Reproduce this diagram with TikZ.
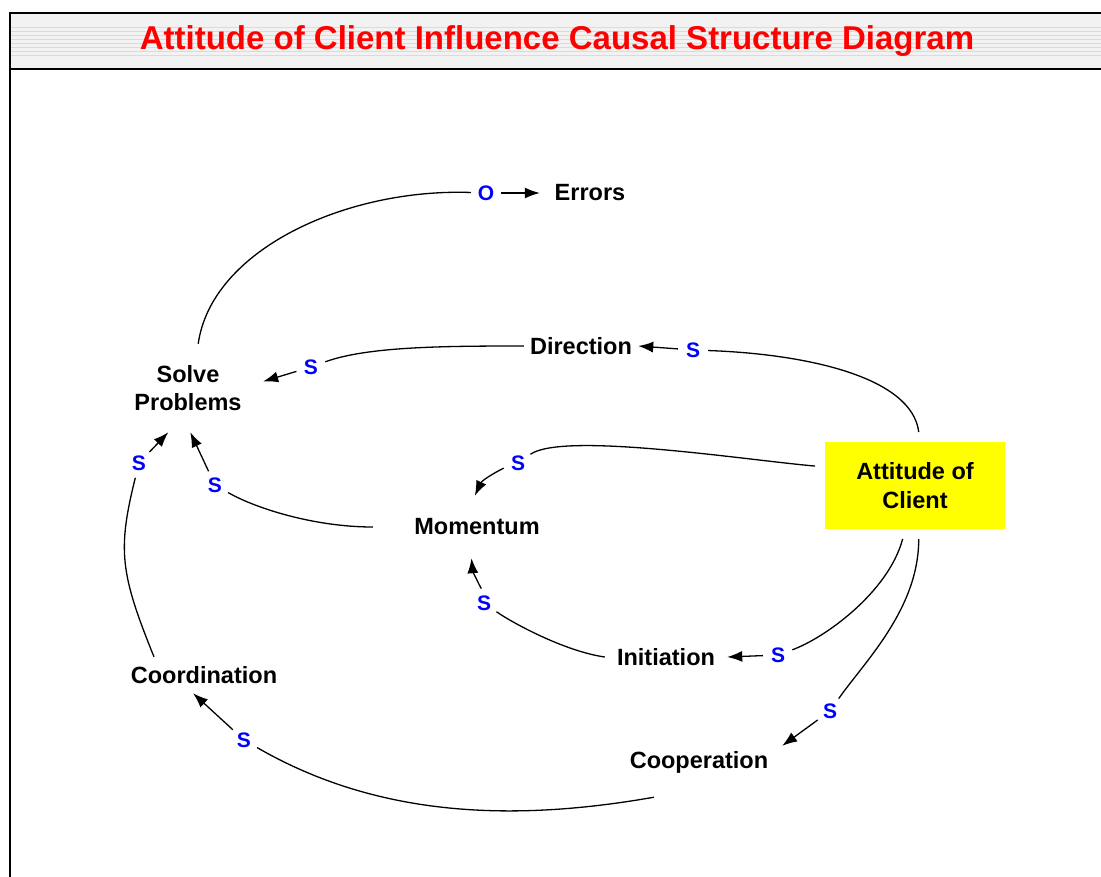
\documentclass[tikz,border=0pt]{standalone}
\usepackage{fontspec}
\setmainfont{Liberation Sans}
\usetikzlibrary{arrows.meta}
\definecolor{polblue}{RGB}{0,0,255}
\definecolor{titlered}{RGB}{255,0,0}
\definecolor{boxyellow}{RGB}{255,255,0}

\begin{document}
\begin{tikzpicture}[x=1pt,y=1pt,
  var/.style={font=\fontsize{23.5}{28.5}\selectfont\bfseries,align=center,inner sep=0pt},
  pol/.style={circle,font=\fontsize{21}{24}\selectfont\bfseries,text=polblue,inner sep=0pt,minimum size=30pt},
  link/.style={line width=1.3pt},
  arr/.style={link,-{Latex[length=15pt,width=11pt]}}]
  \useasboundingbox (0,0) rectangle (1101,-876);
  \clip (0,0) rectangle (1101,-876);
  % Title bar with stripes
  \fill[gray!10] (10,-13) rectangle (1110,-69);
  \foreach \y in {27,31,...,55}
    \draw[gray!28,line width=1pt] (10,-\y) -- (1110,-\y);
  \draw[line width=1.5pt] (1110,-13) -- (10,-13) -- (10,-890);
  \draw[line width=1.5pt] (10,-69) -- (1110,-69);
  \node[font=\fontsize{33}{38}\selectfont\bfseries,text=titlered] (title) at (557,-41)
    {Attitude of Client Influence Causal Structure Diagram};

  % Variables
  \node[var,fill=boxyellow,minimum width=180pt,minimum height=87pt,outer sep=10pt]
    (attitude) at (915,-485.5) {Attitude of\\Client};
  \node[var,minimum width=150pt,minimum height=88pt] (solve) at (188,-388) {Solve\\Problems};
  \node[var,minimum width=100pt,minimum height=30pt] (errors) at (590,-193) {Errors};
  \node[var,minimum width=114pt,minimum height=30pt] (direction) at (581,-346) {Direction};
  \node[var,minimum width=208pt,minimum height=62pt] (momentum) at (477,-527) {Momentum};
  \node[var,minimum width=122pt,minimum height=30pt] (initiation) at (666,-657) {Initiation};
  \node[var,minimum width=180pt,minimum height=36pt] (coordination) at (204,-675) {Coordination};
  \node[var,minimum width=166pt,minimum height=70pt] (cooperation) at (699,-762) {Cooperation};

  % Polarities
  \node[pol] (pErr) at (486,-193) {O};
  \node[pol] (pDir) at (693,-350) {S};
  \node[pol] (pSolveDir) at (311,-367) {S};
  \node[pol] (pMom) at (518,-463) {S};
  \node[pol] (pSolveMom) at (215,-485) {S};
  \node[pol] (pSolveCoord) at (139,-463) {S};
  \node[pol] (pMomInit) at (484,-603) {S};
  \node[pol] (pInit) at (778,-655) {S};
  \node[pol] (pCoop) at (830,-711) {S};
  \node[pol] (pCoord) at (244,-740) {S};

  % Links
  \draw[link] (solve.77) .. controls +(82:95) and +(178:140) .. (pErr);
  \draw[arr] (pErr) -- (errors.west);

  \draw[link] (attitude.86) .. controls +(97:55) and +(-2:115) .. (pDir);
  \draw[arr] (pDir) -- (direction.east);

  \draw[link] (direction.west) .. controls +(180:80) and +(20:60) .. (pSolveDir);
  \draw[arr] (pSolveDir) -- (solve.5);

  \draw[link] (attitude.169) .. controls +(175:70) and +(35:55) .. (pMom);
  \draw[arr] (pMom) .. controls +(200:18) and +(65:18) .. (momentum.94);

  \draw[link] (momentum.west) .. controls +(180:60) and +(-30:45) .. (pSolveMom);
  \draw[arr] (pSolveMom) -- (solve.-87);

  \draw[link] (coordination.160) .. controls +(112:90) and +(-104:90) .. (pSolveCoord);
  \draw[arr] (pSolveCoord) -- (solve.-114);

  \draw[link] (initiation.west) .. controls +(172:40) and +(-35:35) .. (pMomInit);
  \draw[arr] (pMomInit) .. controls +(100:12) and +(-85:12) .. (momentum.-100);

  \draw[link] (attitude.-103) .. controls +(-105:55) and +(20:50) .. (pInit);
  \draw[arr] (pInit) -- (initiation.east);

  \draw[link] (attitude.-86) .. controls +(-90:70) and +(55:60) .. (pCoop);
  \draw[arr] (pCoop) -- (cooperation.11);

  \draw[link] (cooperation.-142) .. controls +(190:150) and +(-30:150) .. (pCoord);
  \draw[arr] (pCoord) -- (coordination.-121);
\end{tikzpicture}
\end{document}
